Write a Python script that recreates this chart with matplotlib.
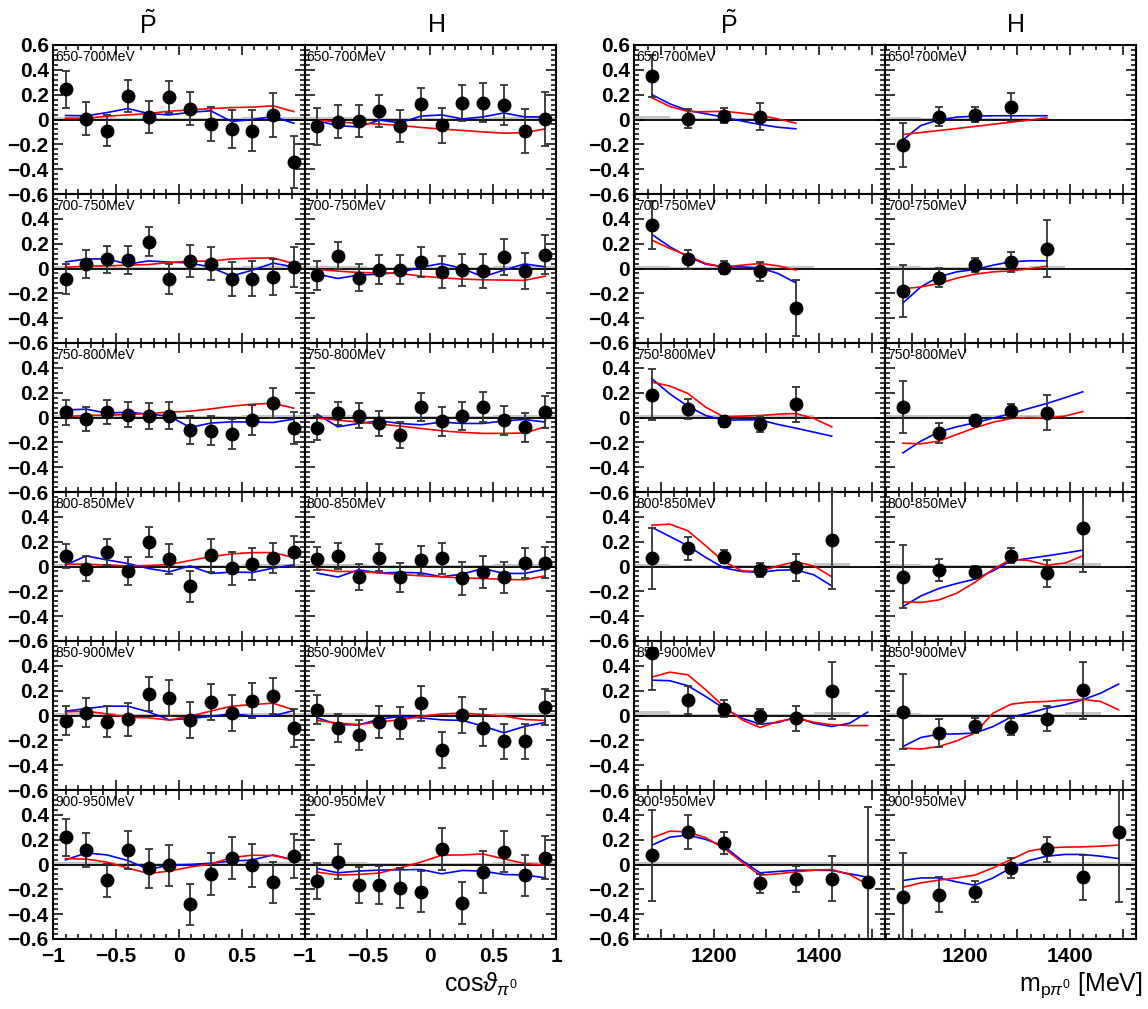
import numpy as np
import matplotlib
matplotlib.use('Agg')
import matplotlib.pyplot as plt
from matplotlib.ticker import MultipleLocator, FuncFormatter

plt.rcParams['font.family'] = ['Liberation Sans', 'DejaVu Sans']
plt.rcParams['mathtext.fontset'] = 'custom'
plt.rcParams['mathtext.rm'] = 'Liberation Sans'
plt.rcParams['mathtext.it'] = 'Liberation Sans:italic'
plt.rcParams['mathtext.fallback'] = 'stixsans'

energy_bins = ['650-700MeV', '700-750MeV', '750-800MeV', '800-850MeV', '850-900MeV', '900-950MeV']

# cos(theta_pi0) bins (12 per panel)
cos_x = [-0.90, -0.735, -0.57, -0.405, -0.24, -0.075, 0.09, 0.255, 0.42, 0.585, 0.75, 0.915]
cos_edges = [-1.0, 1.0]

# invariant mass bins (MeV) and curve sampling
m_x = [1083, 1151, 1219, 1288, 1356, 1424, 1492]
m_curve = [1083, 1117, 1151, 1185, 1219, 1254, 1288, 1322, 1356, 1390, 1424, 1458, 1492]
m_bin_width = 68

# ---- P tilde vs cos ----
pt_cos_y = [
    [0.243, 0.008, -0.09, 0.19, 0.02, 0.184, 0.088, -0.037, -0.077, -0.09, 0.037, -0.344],
    [-0.083, 0.035, 0.075, 0.067, 0.216, -0.085, 0.061, 0.04, -0.085, -0.083, -0.069, 0.013],
    [0.043, -0.011, 0.045, 0.021, 0.011, 0.016, -0.099, -0.107, -0.131, -0.019, 0.117, -0.085],
    [0.083, -0.019, 0.117, -0.035, 0.197, 0.059, -0.16, 0.091, -0.016, 0.019, 0.069, 0.117],
    [-0.043, 0.024, -0.051, -0.032, 0.173, 0.141, -0.035, 0.107, 0.019, 0.117, 0.16, -0.101],
    [0.219, 0.117, -0.128, 0.117, -0.032, -0.008, -0.32, -0.075, 0.051, -0.008, -0.144, 0.069],
]
pt_cos_err = [
    [0.15, 0.135, 0.125, 0.13, 0.13, 0.13, 0.135, 0.14, 0.153, 0.165, 0.175, 0.21],
    [0.123, 0.11, 0.11, 0.115, 0.117, 0.119, 0.13, 0.13, 0.14, 0.14, 0.144, 0.16],
    [0.1, 0.096, 0.098, 0.1, 0.105, 0.11, 0.115, 0.116, 0.12, 0.118, 0.12, 0.13],
    [0.096, 0.1, 0.105, 0.11, 0.12, 0.12, 0.127, 0.133, 0.13, 0.128, 0.123, 0.125],
    [0.116, 0.117, 0.124, 0.13, 0.139, 0.144, 0.143, 0.145, 0.147, 0.141, 0.145, 0.15],
    [0.148, 0.14, 0.136, 0.153, 0.16, 0.168, 0.165, 0.17, 0.17, 0.17, 0.163, 0.176],
]
pt_cos_blue = [
    [0.032, 0.03, 0.056, 0.088, 0.048, 0.037, 0.058, 0.07, -0.016, 0.0, 0.024, -0.03],
    [0.053, 0.077, 0.077, 0.035, 0.061, 0.051, 0.045, 0.01, -0.061, -0.013, 0.043, 0.013],
    [0.061, 0.067, 0.035, 0.043, 0.027, 0.011, -0.08, -0.045, -0.035, -0.037, -0.04, -0.013],
    [0.013, 0.085, 0.053, 0.024, -0.016, -0.043, 0.005, -0.056, -0.045, -0.048, -0.013, 0.013],
    [0.035, 0.056, 0.075, 0.075, 0.029, -0.035, -0.024, -0.008, 0.016, -0.005, -0.003, 0.04],
    [0.037, 0.093, 0.077, 0.032, -0.04, -0.005, 0.0, 0.011, 0.027, 0.037, 0.077, 0.037],
]
pt_cos_red = [
    [0.01, 0.01, 0.027, 0.037, 0.048, 0.067, 0.077, 0.088, 0.096, 0.1, 0.11, 0.064],
    [0.01, 0.019, 0.021, 0.027, 0.032, 0.048, 0.059, 0.059, 0.077, 0.083, 0.085, 0.04],
    [0.008, 0.016, 0.019, 0.024, 0.032, 0.043, 0.051, 0.069, 0.091, 0.107, 0.115, 0.075],
    [0.019, 0.019, 0.011, 0.005, 0.008, 0.016, 0.048, 0.08, 0.101, 0.112, 0.112, 0.072],
    [0.029, 0.035, 0.013, -0.013, -0.019, -0.037, -0.005, 0.035, 0.075, 0.088, 0.099, 0.045],
    [0.048, 0.043, 0.019, -0.029, -0.072, -0.053, -0.021, 0.005, 0.056, 0.075, 0.072, 0.037],
]
pt_cos_sys = [0.02, 0.018, 0.018, 0.016, 0.016, 0.016, 0.016, 0.016, 0.016, 0.018, 0.018, 0.02]

# ---- H vs cos ----
h_cos_y = [
    [-0.056, -0.02, -0.01, 0.067, -0.053, 0.125, -0.048, 0.133, 0.136, 0.117, -0.093, 0.003],
    [-0.056, 0.104, -0.075, -0.01, -0.01, 0.053, -0.027, -0.013, -0.019, 0.091, -0.019, 0.112],
    [-0.085, 0.035, 0.016, -0.048, -0.141, 0.085, -0.032, 0.013, 0.085, -0.024, -0.08, 0.043],
    [0.064, 0.083, -0.083, 0.072, -0.088, 0.051, 0.067, -0.096, -0.045, -0.085, 0.029, 0.032],
    [0.048, -0.099, -0.157, -0.053, -0.061, 0.099, -0.277, 0.005, -0.099, -0.208, -0.208, 0.069],
    [-0.133, 0.024, -0.163, -0.165, -0.189, -0.219, 0.125, -0.309, -0.061, 0.104, -0.088, 0.056],
]
h_cos_err = [
    [0.15, 0.133, 0.13, 0.127, 0.13, 0.13, 0.139, 0.144, 0.155, 0.16, 0.18, 0.215],
    [0.12, 0.112, 0.11, 0.115, 0.115, 0.123, 0.127, 0.13, 0.136, 0.144, 0.144, 0.155],
    [0.1, 0.093, 0.1, 0.1, 0.107, 0.112, 0.113, 0.115, 0.12, 0.12, 0.12, 0.127],
    [0.096, 0.103, 0.104, 0.11, 0.116, 0.113, 0.124, 0.13, 0.127, 0.125, 0.12, 0.128],
    [0.115, 0.111, 0.117, 0.132, 0.131, 0.14, 0.143, 0.147, 0.148, 0.143, 0.143, 0.148],
    [0.145, 0.14, 0.145, 0.15, 0.16, 0.165, 0.172, 0.172, 0.167, 0.168, 0.167, 0.173],
]
h_cos_blue = [
    [-0.01, -0.05, -0.06, -0.005, -0.027, 0.027, 0.037, 0.005, 0.021, 0.053, 0.021, 0.021],
    [-0.045, -0.08, -0.053, -0.045, -0.032, 0.01, 0.04, 0.0, -0.067, -0.013, 0.037, 0.013],
    [0.027, -0.075, -0.048, -0.027, -0.048, -0.059, -0.037, -0.048, -0.048, -0.027, -0.016, -0.037],
    [-0.053, -0.085, -0.027, -0.051, -0.048, -0.051, -0.083, -0.061, -0.016, -0.056, -0.056, -0.021],
    [-0.019, -0.072, -0.077, -0.029, -0.008, -0.019, -0.035, -0.04, -0.085, -0.139, -0.088, -0.056],
    [-0.032, -0.067, -0.053, -0.045, -0.043, -0.04, -0.075, -0.048, -0.053, -0.08, -0.085, -0.107],
]
h_cos_red = [
    [-0.005, -0.02, -0.03, -0.037, -0.048, -0.064, -0.077, -0.088, -0.1, -0.11, -0.107, -0.075],
    [-0.008, -0.021, -0.032, -0.035, -0.04, -0.061, -0.075, -0.085, -0.091, -0.093, -0.096, -0.061],
    [-0.005, -0.021, -0.037, -0.053, -0.069, -0.088, -0.107, -0.12, -0.128, -0.128, -0.125, -0.075],
    [-0.021, -0.04, -0.04, -0.053, -0.064, -0.075, -0.083, -0.093, -0.096, -0.104, -0.107, -0.075],
    [-0.04, -0.061, -0.072, -0.051, -0.035, -0.008, 0.013, 0.019, 0.008, -0.005, -0.032, -0.04],
    [-0.061, -0.085, -0.08, -0.069, -0.027, 0.019, 0.075, 0.077, 0.085, 0.045, 0.008, -0.005],
]
h_cos_sys = [0.02, 0.018, 0.018, 0.016, 0.016, 0.016, 0.016, 0.016, 0.016, 0.018, 0.018, 0.02]

# ---- P tilde vs m(p pi0) ----
pt_m_y = [
    [0.352, 0.008, 0.03, 0.022],
    [0.35, 0.075, 0.008, -0.024, -0.315],
    [0.183, 0.07, -0.03, -0.056, 0.105],
    [0.067, 0.145, 0.078, -0.027, -0.005, 0.212],
    [0.503, 0.124, 0.054, -0.005, -0.022, 0.199],
    [0.073, 0.263, 0.175, -0.153, -0.118, -0.113, -0.14],
]
pt_m_err = [
    [0.17, 0.08, 0.06, 0.11],
    [0.196, 0.078, 0.05, 0.078, 0.226],
    [0.205, 0.08, 0.045, 0.063, 0.14],
    [0.245, 0.09, 0.052, 0.057, 0.108, 0.39],
    [0.3, 0.115, 0.067, 0.06, 0.1, 0.23],
    [0.365, 0.135, 0.088, 0.08, 0.102, 0.178, 0.6],
]
pt_m_blue = [
    [0.2, 0.126, 0.073, 0.046, 0.019, -0.013, -0.04, -0.062, -0.075],
    [0.274, 0.175, 0.094, 0.035, 0.013, 0.013, 0.005, -0.04, -0.116],
    [0.312, 0.19, 0.091, 0.016, -0.022, -0.019, -0.019, -0.056, -0.086, -0.118, -0.15],
    [0.315, 0.242, 0.167, 0.073, -0.011, -0.04, -0.048, -0.03, -0.027, -0.067, -0.156],
    [0.285, 0.28, 0.24, 0.153, 0.059, -0.022, -0.07, -0.056, -0.013, -0.062, -0.089, -0.062, 0.027],
    [0.156, 0.22, 0.237, 0.202, 0.148, 0.032, -0.067, -0.056, -0.046, -0.046, -0.048, -0.075, -0.102],
]
pt_m_red = [
    [0.175, 0.105, 0.065, 0.062, 0.067, 0.051, 0.032, 0.005, -0.03],
    [0.228, 0.161, 0.105, 0.04, 0.013, 0.027, 0.04, 0.022, -0.013],
    [0.285, 0.253, 0.194, 0.083, 0.005, 0.011, 0.016, 0.027, 0.032, -0.008, -0.075],
    [0.333, 0.341, 0.288, 0.167, 0.04, -0.035, -0.04, 0.005, 0.038, 0.005, -0.083],
    [0.309, 0.349, 0.328, 0.207, 0.073, -0.035, -0.097, -0.048, -0.022, -0.054, -0.075, -0.081, -0.081],
    [0.215, 0.269, 0.263, 0.215, 0.134, 0.019, -0.086, -0.075, -0.059, -0.046, -0.04, -0.081, -0.161],
]
pt_m_sys = [
    [0.025, 0.013, 0.013, 0.013],
    [0.02, 0.013, 0.013, 0.013, 0.02],
    [0.02, 0.02, 0.02, 0.02, 0.02],
    [0.02, 0.015, 0.015, 0.015, 0.015, 0.03],
    [0.035, 0.012, 0.012, 0.012, 0.012, 0.028],
    [0.02, 0.02, 0.02, 0.02, 0.02, 0.02, 0.02],
]

# ---- H vs m(p pi0) ----
h_m_y = [
    [-0.207, 0.022, 0.04, 0.1],
    [-0.18, -0.073, 0.027, 0.054, 0.161],
    [0.083, -0.124, -0.022, 0.051, 0.038],
    [-0.083, -0.03, -0.043, 0.086, -0.054, 0.312],
    [0.032, -0.142, -0.081, -0.089, -0.027, 0.202],
    [-0.258, -0.242, -0.218, -0.027, 0.121, -0.102, 0.258],
]
h_m_err = [
    [0.175, 0.075, 0.062, 0.11],
    [0.208, 0.08, 0.055, 0.08, 0.228],
    [0.207, 0.078, 0.045, 0.059, 0.142],
    [0.255, 0.09, 0.045, 0.059, 0.11, 0.36],
    [0.3, 0.113, 0.062, 0.071, 0.1, 0.232],
    [0.35, 0.143, 0.086, 0.08, 0.097, 0.18, 0.56],
]
h_m_blue = [
    [-0.164, -0.048, -0.003, 0.019, 0.027, 0.03, 0.03, 0.03, 0.03],
    [-0.277, -0.148, -0.067, -0.027, -0.008, 0.027, 0.054, 0.062, 0.062],
    [-0.285, -0.19, -0.116, -0.075, -0.043, -0.005, 0.032, 0.073, 0.113, 0.159, 0.207],
    [-0.323, -0.237, -0.177, -0.137, -0.102, -0.035, 0.046, 0.065, 0.086, 0.108, 0.132],
    [-0.25, -0.177, -0.151, -0.148, -0.142, -0.089, -0.013, 0.019, 0.059, 0.086, 0.126, 0.18, 0.253],
    [-0.129, -0.108, -0.108, -0.14, -0.167, -0.108, -0.027, 0.032, 0.067, 0.081, 0.081, 0.067, 0.048],
]
h_m_red = [
    [-0.121, -0.105, -0.089, -0.073, -0.056, -0.038, -0.022, -0.005, 0.013],
    [-0.164, -0.148, -0.121, -0.078, -0.046, -0.027, -0.019, -0.003, 0.019],
    [-0.207, -0.212, -0.19, -0.137, -0.083, -0.038, -0.008, 0.0, -0.005, 0.011, 0.048],
    [-0.285, -0.29, -0.269, -0.215, -0.129, -0.022, 0.059, 0.048, 0.011, 0.027, 0.086],
    [-0.263, -0.27, -0.25, -0.204, -0.142, 0.019, 0.091, 0.108, 0.113, 0.124, 0.129, 0.113, 0.046],
    [-0.183, -0.148, -0.126, -0.108, -0.086, -0.027, 0.04, 0.108, 0.134, 0.14, 0.142, 0.148, 0.156],
]
h_m_sys = [
    [0.02, 0.015, 0.015, 0.015],
    [0.02, 0.015, 0.015, 0.015, 0.02],
    [0.02, 0.02, 0.02, 0.02, 0.02],
    [0.02, 0.015, 0.015, 0.015, 0.015, 0.03],
    [0.02, 0.015, 0.015, 0.015, 0.015, 0.025],
    [0.02, 0.02, 0.02, 0.02, 0.02, 0.02, 0.02],
]

W, H = 1148, 1009
fig = plt.figure(figsize=(W / 100, H / 100), dpi=100)
col_left = [53, 304.5, 634, 885]
col_w = [251.5, 251.5, 251, 251]
top = 45
row_h = 149


def fmt_num(v):
    if abs(v) < 1e-9:
        return '0'
    s = '%g' % round(v, 3)
    return s.replace('-', '\u2212')


def draw(ax, x, y, err, cx, blue, red, sys_x, sys_h, sys_w):
    ax.bar(sys_x, sys_h, width=sys_w, color='#c4c4c4', linewidth=0, zorder=1)
    ax.axhline(0, color='black', lw=1.3, zorder=2)
    ax.plot(cx, blue, color='#0000ff', lw=1.2, zorder=3)
    ax.plot(cx, red, color='#ff0000', lw=1.2, zorder=3)
    ax.errorbar(x, y, yerr=err, fmt='o', color='black', ms=9, ecolor='#333333',
                elinewidth=1.3, capsize=3, capthick=1.3, zorder=5)


cos_bin_c = (np.linspace(-1, 1, 13)[:-1] + np.linspace(-1, 1, 13)[1:]) / 2

for r in range(6):
    for c in range(4):
        rect = [col_left[c] / W, (H - top - (r + 1) * row_h) / H, col_w[c] / W, row_h / H]
        ax = fig.add_axes(rect)
        if c == 0:
            draw(ax, cos_x, pt_cos_y[r], pt_cos_err[r], cos_x, pt_cos_blue[r], pt_cos_red[r],
                 cos_bin_c, pt_cos_sys, 1 / 6)
        elif c == 1:
            draw(ax, cos_x, h_cos_y[r], h_cos_err[r], cos_x, h_cos_blue[r], h_cos_red[r],
                 cos_bin_c, h_cos_sys, 1 / 6)
        elif c == 2:
            n = len(pt_m_y[r])
            draw(ax, m_x[:n], pt_m_y[r], pt_m_err[r], m_curve[:len(pt_m_blue[r])],
                 pt_m_blue[r], pt_m_red[r], m_x[:n], pt_m_sys[r], m_bin_width)
        else:
            n = len(h_m_y[r])
            draw(ax, m_x[:n], h_m_y[r], h_m_err[r], m_curve[:len(h_m_blue[r])],
                 h_m_blue[r], h_m_red[r], m_x[:n], h_m_sys[r], m_bin_width)

        ax.set_ylim(-0.6, 0.6)
        ax.yaxis.set_major_locator(MultipleLocator(0.2))
        ax.yaxis.set_minor_locator(MultipleLocator(0.04))
        if c < 2:
            ax.set_xlim(-1, 1)
            ax.xaxis.set_major_locator(MultipleLocator(0.5))
            ax.xaxis.set_minor_locator(MultipleLocator(0.1))
            if c == 0:
                ax.xaxis.set_major_formatter(FuncFormatter(
                    lambda v, p: '' if v > 0.99 else fmt_num(v)))
            else:
                ax.xaxis.set_major_formatter(FuncFormatter(lambda v, p: fmt_num(v)))
        else:
            ax.set_xlim(1049, 1525)
            ax.xaxis.set_major_locator(MultipleLocator(100))
            ax.xaxis.set_minor_locator(MultipleLocator(25))
            ax.xaxis.set_major_formatter(FuncFormatter(
                lambda v, p: '%d' % round(v) if round(v) % 200 == 0 else ''))
        if r == 0:
            ax.yaxis.set_major_formatter(FuncFormatter(lambda v, p: fmt_num(v)))
        else:
            ax.yaxis.set_major_formatter(FuncFormatter(
                lambda v, p: '' if v > 0.59 else fmt_num(v)))

        ax.tick_params(which='both', direction='in', top=True, right=True, width=1.1)
        ax.tick_params(which='major', length=7)
        ax.tick_params(which='minor', length=3.5)
        ax.tick_params(axis='y', labelsize=15, pad=3, labelleft=(c in (0, 2)))
        ax.tick_params(axis='x', labelsize=15, pad=6, labelbottom=(r == 5))
        for lab in ax.get_xticklabels() + ax.get_yticklabels():
            lab.set_fontweight('bold')
        for sp in ax.spines.values():
            sp.set_linewidth(1.5)

        ax.text(0.008, 0.965, energy_bins[r], transform=ax.transAxes, ha='left', va='top',
                fontsize=10, zorder=6)

# column titles
for xc, t in [(148, r'$\tilde{\mathrm{P}}$'), (437, 'H'), (729, r'$\tilde{\mathrm{P}}$'), (1016, 'H')]:
    fig.text(xc / W, 1 - 25 / H, t, ha='center', va='center', fontsize=18)

fig.text(518 / W, 1 - 984 / H, r'cos$\vartheta_{\pi^{0}}$', ha='right', va='center', fontsize=18)
fig.text(1143 / W, 1 - 985 / H, r'm$_{\mathrm{p}\pi^{0}}$ [MeV]', ha='right', va='center', fontsize=18)

fig.savefig('out.png', dpi=100)
